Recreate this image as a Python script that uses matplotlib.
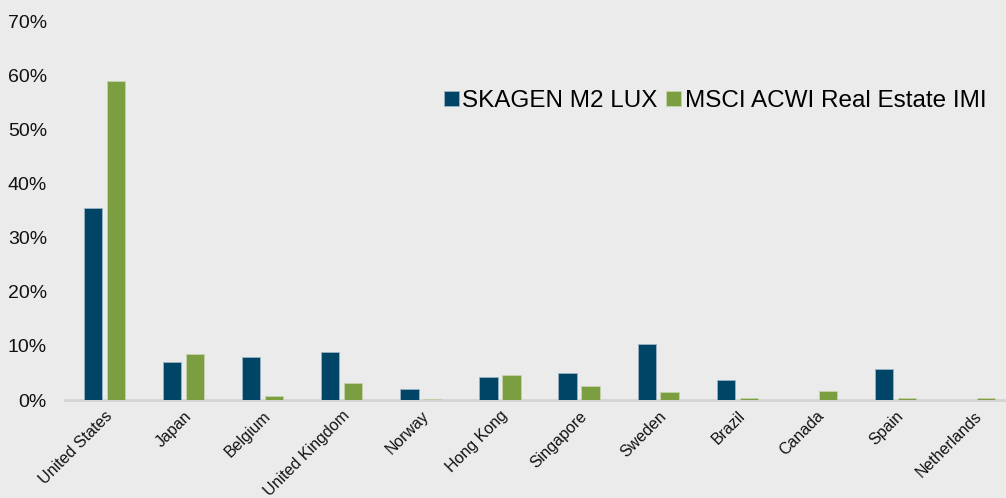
import numpy as np
import matplotlib.pyplot as plt
from matplotlib.ticker import FuncFormatter

plt.rcParams['font.family'] = ['Liberation Sans', 'DejaVu Sans']

countries = ['United States', 'Japan', 'Belgium', 'United Kingdom', 'Norway', 'Hong Kong',
             'Singapore', 'Sweden', 'Brazil', 'Canada', 'Spain', 'Netherlands']
skagen = [35.5, 7.0, 7.9, 8.9, 2.0, 4.3, 4.9, 10.3, 3.7, 0.0, 5.8, 0.0]
msci = [58.9, 8.5, 0.8, 3.1, 0.2, 4.7, 2.6, 1.5, 0.3, 1.7, 0.35, 0.35]

bg = '#ebebeb'
fig = plt.figure(figsize=(10.06, 4.98), dpi=100, facecolor=bg)
ax = fig.add_axes([65 / 1006, 1 - 400 / 498, (1014 - 65) / 1006, (400 - 21) / 498])
ax.set_facecolor(bg)

x = np.arange(len(countries))
w = 0.23
ax.bar(x - 0.145, skagen, w, color='#004466', edgecolor='#9bb3c4', linewidth=0.6,
       label='SKAGEN M2 LUX', zorder=3)
ax.bar(x + 0.145, msci, w, color='#7b9e40', edgecolor='#c5d3ab', linewidth=0.6,
       label='MSCI ACWI Real Estate IMI', zorder=3)

ax.set_xlim(-0.5, len(countries) - 0.5)
ax.set_ylim(0, 70)
ax.set_yticks(np.arange(0, 71, 10))
ax.yaxis.set_major_formatter(FuncFormatter(lambda v, p: f'{v:.0f}%'))
ax.tick_params(axis='y', length=0, labelsize=14, pad=13, colors='#111111')
ax.set_xticks(x)
ax.set_xticklabels(countries, rotation=45, ha='right', rotation_mode='anchor')
ax.tick_params(axis='x', length=0, labelsize=11.5, pad=6, colors='#111111')

for s in ['top', 'right', 'left']:
    ax.spines[s].set_visible(False)
ax.spines['bottom'].set_color('#d4d4d4')
ax.spines['bottom'].set_linewidth(2)

leg = fig.legend(loc='center right', bbox_to_anchor=(0.99, 0.797), ncol=2, frameon=False,
                 fontsize=17.5, handlelength=0.6, handleheight=0.6, handletextpad=0.15,
                 columnspacing=0.35, borderaxespad=0)

fig.savefig('out.png', dpi=100, facecolor=bg)
